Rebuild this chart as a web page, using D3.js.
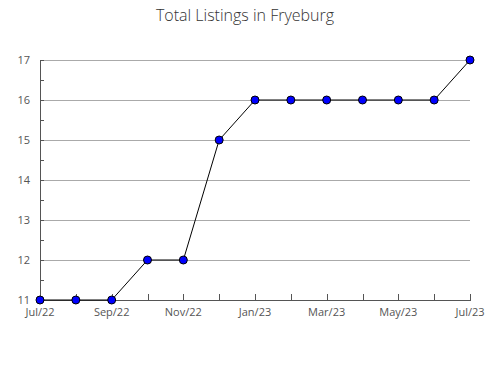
<!DOCTYPE html>
<html>
<head>
<meta charset="utf-8">
<script src="https://cdn.jsdelivr.net/npm/d3@7"></script>
<style>
  body { margin: 0; background: #fff; }
  svg { font-family: "Open Sans", "Noto Sans", sans-serif; }
</style>
</head>
<body>
<div class="chart"></div>
<script>
// data
const months = ['Jul/22', 'Aug/22', 'Sep/22', 'Oct/22', 'Nov/22', 'Dec/22', 'Jan/23',
                'Feb/23', 'Mar/23', 'Apr/23', 'May/23', 'Jun/23', 'Jul/23']
const listings = [11, 11, 11, 12, 12, 15, 16, 16, 16, 16, 16, 16, 17]
const yTicks = [11, 12, 13, 14, 15, 16, 17]

const width = 490,
      height = 380,
      margin = {top: 60, right: 20, bottom: 80, left: 40}

const svg = d3.select('.chart').append('svg')
  .attr('width', width)
  .attr('height', height)

const x = d3.scalePoint()
  .domain(months)
  .range([margin.left, width - margin.right])

const y = d3.scaleLinear()
  .domain([11, 17])
  .range([height - margin.bottom, margin.top])

// title
svg.append('text')
  .attr('x', width / 2)
  .attr('y', 21)
  .attr('text-anchor', 'middle')
  .attr('fill', '#333')
  .style('font-size', '16px')
  .style('font-weight', '300')
  .text('Total Listings in Fryeburg')

// gridlines
svg.append('g')
  .selectAll('line')
  .data(yTicks)
  .join('line')
    .attr('x1', margin.left)
    .attr('x2', width - margin.right)
    .attr('y1', d => y(d))
    .attr('y2', d => y(d))
    .attr('stroke', '#aaa')
    .attr('shape-rendering', 'crispEdges')

// y axis with half-step minor ticks pointing inward
const yAxis = d3.axisRight(y)
  .tickValues(d3.range(11, 17.01, 0.5))
  .tickSize(4)
  .tickFormat('')

const yg = svg.append('g')
  .attr('transform', `translate(${margin.left},0)`)
  .call(yAxis)
yg.select('.domain').attr('stroke', '#555').attr('shape-rendering', 'crispEdges')
yg.selectAll('.tick line').attr('stroke', '#555').attr('shape-rendering', 'crispEdges')

svg.append('g')
  .selectAll('text')
  .data(yTicks)
  .join('text')
    .attr('x', margin.left - 10)
    .attr('y', d => y(d))
    .attr('dy', '0.35em')
    .attr('text-anchor', 'end')
    .attr('fill', '#555')
    .style('font-size', '11px')
    .text(d => d)

// x axis, ticks pointing up
const xAxis = d3.axisTop(x)
  .tickSize(6)
  .tickFormat('')

const xg = svg.append('g')
  .attr('transform', `translate(0,${height - margin.bottom})`)
  .call(xAxis)
xg.select('.domain').attr('stroke', '#555').attr('shape-rendering', 'crispEdges')
xg.selectAll('.tick line').attr('stroke', '#555').attr('shape-rendering', 'crispEdges')

svg.append('g')
  .selectAll('text')
  .data(months.filter((d, i) => i % 2 == 0))
  .join('text')
    .attr('x', d => x(d))
    .attr('y', height - margin.bottom + 16)
    .attr('text-anchor', 'middle')
    .attr('fill', '#555')
    .style('font-size', '11px')
    .text(d => d)

// line
const line = d3.line()
  .x((d, i) => x(months[i]))
  .y(d => y(d))

svg.append('path')
  .datum(listings)
  .attr('fill', 'none')
  .attr('stroke', '#000')
  .attr('stroke-width', 1)
  .attr('d', line)

// markers
svg.append('g')
  .selectAll('circle')
  .data(listings)
  .join('circle')
    .attr('cx', (d, i) => x(months[i]))
    .attr('cy', d => y(d))
    .attr('r', 4)
    .attr('fill', '#0000ff')
    .attr('stroke', '#000')
    .attr('stroke-width', 1)
</script>
</body>
</html>
